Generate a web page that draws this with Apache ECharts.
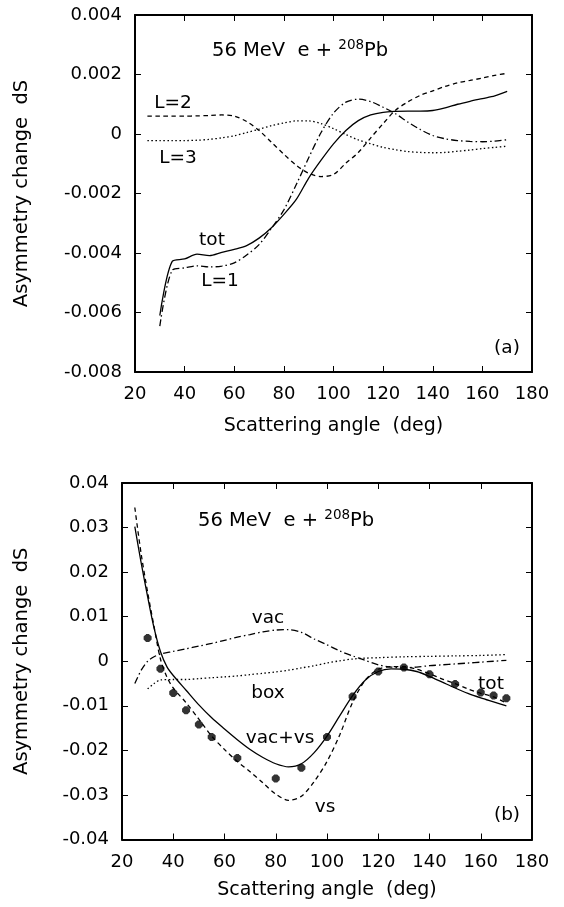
<!DOCTYPE html>
<html>
<head>
<meta charset="utf-8">
<script src="https://cdn.jsdelivr.net/npm/echarts@6/dist/echarts.min.js"></script>
<style>
  html, body { margin: 0; padding: 0; background: #fff; }
  #chart { width: 564px; height: 907px; }
</style>
</head>
<body>
<div id="chart"></div>
<script>
// ---- (a) partial-wave contributions, 56 MeV e + 208Pb ----
const angleTotL1 = [30, 35, 40, 45, 50, 55, 60, 65, 70, 75, 80, 85, 90, 95, 100, 105, 110, 115, 120, 125, 130, 135, 140, 145, 150, 155, 160, 165, 170];
const totA = [-0.0061, -0.00428, -0.00420, -0.00404, -0.00409, -0.00398, -0.00388, -0.00375, -0.00350, -0.00315, -0.00270, -0.00220, -0.00148, -0.00088, -0.00033, 0.00012, 0.00045, 0.00064, 0.00073, 0.00076, 0.00077, 0.00077, 0.00079, 0.00088, 0.00100, 0.00110, 0.00119, 0.00128, 0.00143];
const l1A = [-0.00646, -0.00458, -0.00450, -0.00443, -0.00447, -0.00444, -0.00433, -0.00407, -0.00372, -0.00317, -0.00255, -0.00170, -0.00080, 0.00005, 0.00070, 0.00107, 0.00117, 0.00109, 0.00090, 0.00068, 0.00040, 0.00015, -0.00005, -0.00016, -0.00022, -0.00025, -0.00026, -0.00024, -0.00019];

const angleL2L3 = [25, 30, 35, 40, 45, 50, 55, 60, 65, 70, 75, 80, 85, 90, 95, 100, 105, 110, 115, 120, 125, 130, 135, 140, 145, 150, 155, 160, 165, 170];
const l2A = [0.00060, 0.00060, 0.00060, 0.00060, 0.00061, 0.00062, 0.00064, 0.00060, 0.00042, 0.00012, -0.00028, -0.00068, -0.00105, -0.00132, -0.00143, -0.00136, -0.00098, -0.00062, -0.00013, 0.00035, 0.00080, 0.00108, 0.00130, 0.00145, 0.00160, 0.00172, 0.00180, 0.00188, 0.00197, 0.00204];
const l3A = [-0.00022, -0.00022, -0.00022, -0.00022, -0.00021, -0.00018, -0.00013, -0.00006, 0.00005, 0.00016, 0.00028, 0.00037, 0.00044, 0.00044, 0.00035, 0.00018, -0.00002, -0.00020, -0.00033, -0.00045, -0.00053, -0.00059, -0.00062, -0.00063, -0.00062, -0.00058, -0.00054, -0.00049, -0.00045, -0.00041];

// ---- (b) vacuum polarisation, vertex+self energy, box ----
const angleVs = [25, 27.5, 30, 32.5, 35, 37.5, 40, 45, 50, 55, 60, 65, 70, 75, 80, 85, 90, 95, 100, 105, 110, 115, 120, 125, 130, 135, 140, 145, 150, 155, 160, 165, 170];
const vacVsB = [0.0302, 0.0220, 0.0145, 0.0075, 0.0022, -0.0012, -0.0032, -0.0065, -0.0098, -0.0127, -0.0152, -0.0176, -0.0198, -0.0216, -0.0230, -0.0237, -0.0230, -0.0205, -0.0168, -0.0122, -0.0077, -0.0042, -0.0023, -0.0017, -0.0018, -0.0023, -0.0034, -0.0047, -0.0060, -0.0072, -0.0082, -0.0091, -0.0100];
const vsB = [0.0345, 0.0240, 0.0155, 0.0078, 0.0005, -0.0035, -0.0060, -0.0093, -0.0130, -0.0168, -0.0198, -0.0225, -0.0248, -0.0273, -0.0298, -0.0312, -0.0303, -0.0270, -0.0225, -0.0165, -0.0092, -0.0042, -0.0018, -0.0012, -0.0012, -0.0018, -0.0028, -0.0040, -0.0050, -0.0062, -0.0072, -0.0080, -0.0094];

const angleVac = [25, 27.5, 30, 32.5, 35, 40, 45, 50, 55, 60, 65, 70, 75, 80, 85, 90, 95, 100, 105, 110, 115, 120, 125, 130, 135, 140, 145, 150, 155, 160, 165, 170];
const vacB = [-0.0050, -0.0020, 0.0000, 0.0010, 0.0016, 0.0022, 0.0028, 0.0034, 0.0040, 0.0047, 0.0054, 0.0060, 0.0066, 0.0070, 0.0071, 0.0065, 0.0050, 0.0037, 0.0023, 0.0012, 0.0002, -0.0008, -0.0013, -0.0015, -0.0013, -0.0010, -0.0008, -0.0006, -0.0004, -0.0002, 0.0000, 0.0002];

const angleBox = [30, 32.5, 35, 40, 45, 50, 55, 60, 65, 70, 75, 80, 85, 90, 95, 100, 105, 110, 115, 120, 130, 140, 150, 160, 170];
const boxB = [-0.0062, -0.0050, -0.0042, -0.0041, -0.0041, -0.0039, -0.0037, -0.0035, -0.0033, -0.0030, -0.0027, -0.0024, -0.0020, -0.0015, -0.0010, -0.0004, 0.0001, 0.0005, 0.0007, 0.0008, 0.0010, 0.0011, 0.0012, 0.0013, 0.0015];

// total change (points)
const angleTot = [30, 35, 40, 45, 50, 55, 65, 80, 90, 100, 110, 120, 130, 140, 150, 160, 165, 170];
const totB = [0.0052, -0.0017, -0.0071, -0.0110, -0.0142, -0.0170, -0.0217, -0.0263, -0.0239, -0.0170, -0.0079, -0.0023, -0.0014, -0.0029, -0.0051, -0.0070, -0.0077, -0.0083];

const FONT = '"DejaVu Sans", "Liberation Sans", sans-serif';
const pair = (xs, ys) => xs.map((x, i) => [x, ys[i]]);

// heavy asterisk point symbol (all four bars wound the same way)
const ASTERISK = 'path://M-2.2,-5L2.2,-5L2.2,5L-2.2,5Z' +
  'M-5,-2.2L5,-2.2L5,2.2L-5,2.2Z' +
  'M-5,-1.9L-1.9,-5L5,1.9L1.9,5Z' +
  'M-1.9,5L-5,1.9L1.9,-5L5,-1.9Z';

const black = '#000';
const tickStyle = { inside: true, length: 6, lineStyle: { color: black, width: 1 } };
const lineAxis = { show: true, onZero: false, lineStyle: { color: black, width: 2 } };

function xAxisPair(grid, nameGap, labelMargin) {
  return [
    {
      gridIndex: grid, type: 'value', position: 'bottom', min: 20, max: 180, interval: 20,
      axisLine: lineAxis, axisTick: tickStyle, splitLine: { show: false },
      axisLabel: { color: black, fontSize: 18, fontFamily: FONT, margin: labelMargin },
      name: 'Scattering angle  (deg)', nameLocation: 'middle', nameGap: nameGap,
      nameTextStyle: { color: black, fontSize: 19, fontFamily: FONT }
    },
    {
      gridIndex: grid, type: 'value', position: 'top', min: 20, max: 180, interval: 20,
      axisLine: lineAxis, axisTick: tickStyle, splitLine: { show: false },
      axisLabel: { show: false }
    }
  ];
}

function yAxisPair(grid, min, max, interval, digits, nameGap) {
  return [
    {
      gridIndex: grid, type: 'value', position: 'left', min: min, max: max, interval: interval,
      axisLine: lineAxis, axisTick: tickStyle, splitLine: { show: false },
      axisLabel: {
        color: black, fontSize: 18, fontFamily: FONT, margin: 13,
        formatter: v => (Math.abs(v) < 1e-12 ? '0' : v.toFixed(digits))
      },
      name: 'Asymmetry change  dS', nameLocation: 'middle', nameRotate: 90, nameGap: nameGap,
      nameTextStyle: { color: black, fontSize: 19.5, fontFamily: FONT }
    },
    {
      gridIndex: grid, type: 'value', position: 'right', min: min, max: max, interval: interval,
      axisLine: lineAxis, axisTick: tickStyle, splitLine: { show: false },
      axisLabel: { show: false }
    }
  ];
}

function curve(xi, yi, data, dash) {
  return {
    type: 'line', xAxisIndex: xi, yAxisIndex: yi, data: data,
    symbol: 'none', smooth: 0.3, silent: true,
    lineStyle: { color: black, width: 1.3, type: dash }
  };
}

const SOLID = 'solid';
const DASHED = [4.5, 3.5];
const DOTTED = [1.5, 2.5];
const DASHDOT = [7, 3, 1.5, 3];

function label(x, y, text, size) {
  return {
    type: 'text', x: x, y: y, silent: true,
    style: { text: text, font: (size || 18.5) + 'px ' + FONT, fill: black, align: 'center', verticalAlign: 'middle' }
  };
}

function reaction(x, y) {
  return {
    type: 'text', x: x, y: y, silent: true,
    style: {
      text: '{a|56 MeV  e + }{s|208}{a|Pb}',
      align: 'left', verticalAlign: 'middle',
      rich: {
        a: { fontSize: 19.5, fontFamily: FONT, fill: black, color: black },
        s: { fontSize: 13.5, fontFamily: FONT, fill: black, color: black, padding: [0, 0, 12, 0] }
      }
    }
  };
}

const option = {
  animation: false,
  backgroundColor: '#fff',
  grid: [
    { left: 135, right: 32, top: 15, height: 357 },
    { left: 122, right: 32, top: 483, height: 356.5 }
  ],
  xAxis: [...xAxisPair(0, 45, 13), ...xAxisPair(1, 41, 14)],
  yAxis: [...yAxisPair(0, -0.008, 0.004, 0.002, 3, 103), ...yAxisPair(1, -0.04, 0.04, 0.01, 2, 90)],
  series: [
    curve(0, 0, pair(angleTotL1, totA), SOLID),
    curve(0, 0, pair(angleTotL1, l1A), DASHDOT),
    curve(0, 0, pair(angleL2L3, l2A), DASHED),
    curve(0, 0, pair(angleL2L3, l3A), DOTTED),
    curve(2, 2, pair(angleVs, vacVsB), SOLID),
    curve(2, 2, pair(angleVs, vsB), DASHED),
    curve(2, 2, pair(angleVac, vacB), DASHDOT),
    curve(2, 2, pair(angleBox, boxB), DOTTED),
    {
      type: 'scatter', xAxisIndex: 2, yAxisIndex: 2, data: pair(angleTot, totB),
      symbol: ASTERISK, symbolSize: 8, silent: true, z: 5,
      itemStyle: { color: black }
    }
  ],
  graphic: [
    reaction(212, 51),
    label(173, 103, 'L=2'),
    label(178, 158, 'L=3'),
    label(212, 240, 'tot'),
    label(220, 281, 'L=1'),
    label(507, 348, '(a)'),
    reaction(198, 521),
    label(268, 618, 'vac'),
    label(268, 693, 'box'),
    label(280, 738, 'vac+vs'),
    label(325, 807, 'vs'),
    label(491, 684, 'tot'),
    label(507, 815, '(b)')
  ]
};

const chart = echarts.init(document.getElementById('chart'), null, { renderer: 'canvas' });
chart.setOption(option);
</script>
</body>
</html>
